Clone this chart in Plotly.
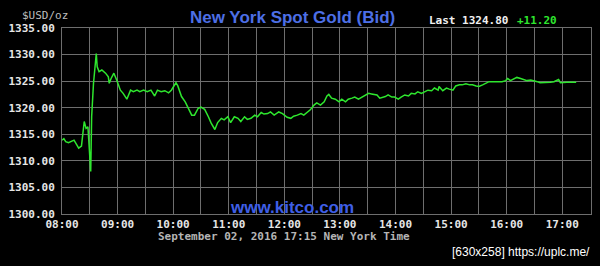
import plotly.graph_objects as go
import pandas as pd

times = ["08:00","08:02","08:04","08:07","08:13","08:18","08:21","08:24","08:26","08:28",
"08:31","08:32","08:34","08:35","08:37","08:38","08:40","08:43","08:47","08:50",
"08:51","08:53","08:56","08:59","09:03","09:06","09:10","09:14","09:17","09:21",
"09:24","09:28","09:32","09:36","09:40","09:43","09:47","09:51","09:55","09:58",
"10:03","10:05","10:09","10:13","10:16","10:20","10:23","10:27","10:30","10:34",
"10:38","10:41","10:45","10:48","10:52","10:55","10:59","11:02","11:06","11:10",
"11:13","11:17","11:20","11:24","11:28","11:31","11:35","11:38","11:42","11:45",
"11:49","11:54","11:58","12:03","12:07","12:10","12:14","12:18","12:21","12:25",
"12:28","12:32","12:35","12:39","12:43","12:46","12:48","12:51","12:55","12:59",
"13:02","13:06","13:09","13:13","13:16","13:20","13:24","13:27","13:31","13:34",
"13:40","13:43","13:49","13:52","13:56","13:59","14:03","14:06","14:10","14:14",
"14:17","14:21","14:24","14:28","14:31","14:35","14:39","14:42","14:46","14:47",
"14:51","14:55","14:58","15:02","15:05","15:09","15:12","15:16","15:20","15:23",
"15:27","15:30","15:34","15:37","15:41","15:45","15:50","15:55","15:59","16:01",
"16:04","16:08","16:11","16:15","16:19","16:22","16:26","16:29","16:33","16:36",
"16:40","16:44","16:47","16:51","16:54","16:56","16:58","17:01","17:05","17:09",
"17:12","17:15"]

bid = [1313.9,1314.2,1313.6,1313.4,1313.9,1312.4,1312.8,1317.4,1316.1,1316.4,
1308.0,1318.3,1324.6,1327.1,1330.2,1327.7,1326.8,1327.1,1326.5,1325.8,
1324.6,1325.5,1326.5,1325.2,1323.3,1322.7,1321.6,1323.3,1323.0,1323.3,
1323.0,1323.3,1323.0,1323.3,1322.2,1323.3,1323.0,1323.2,1322.8,1323.3,
1324.7,1324.1,1322.1,1321.1,1319.9,1318.6,1318.6,1319.9,1320.1,1319.7,
1318.3,1317.1,1315.9,1317.2,1318.0,1317.7,1318.3,1317.2,1318.3,1318.0,
1317.4,1318.3,1317.8,1318.0,1318.6,1318.3,1319.1,1318.8,1318.9,1319.2,
1318.6,1319.2,1318.9,1318.2,1318.0,1318.4,1318.6,1318.9,1318.6,1319.2,
1319.6,1320.5,1320.9,1320.5,1321.1,1322.2,1322.5,1321.8,1321.6,1321.1,
1321.6,1321.1,1321.6,1321.8,1322.0,1321.6,1322.0,1322.2,1322.7,1322.6,
1322.4,1321.8,1322.1,1322.4,1322.0,1322.0,1321.6,1322.0,1322.4,1322.2,
1322.7,1322.6,1323.0,1322.7,1323.0,1323.3,1323.2,1323.7,1323.3,1324.0,
1323.2,1323.7,1323.5,1323.3,1324.1,1324.3,1324.3,1324.5,1324.3,1324.3,
1324.1,1324.0,1324.3,1324.6,1324.9,1324.9,1324.9,1324.9,1325.1,1325.5,
1325.1,1325.5,1325.7,1325.5,1325.2,1325.1,1325.2,1325.1,1324.9,1324.7,
1324.7,1324.7,1324.8,1324.9,1325.1,1325.3,1324.7,1324.8,1324.8,1324.8,
1324.8,1324.8]

date = "2016-09-02"
x = pd.to_datetime([f"{date} {t}" for t in times])

title = "New York Spot Gold (Bid)"
unit = "$USD/oz"
last_label = "Last 1324.80"
change_label = "+11.20"
footer = "September 02, 2016 17:15 New York Time"
site = "www.kitco.com"
stamp = "[630x258] https://uplc.me/"

grid = "#6e6e6e"
mono = "DejaVu Sans Mono"

fig = go.Figure()
fig.add_trace(go.Scatter(x=x, y=bid, mode="lines",
                         line=dict(color="#2ee62e", width=1.5), showlegend=False))

fig.update_layout(
    width=600, height=266,
    margin=dict(l=58, r=8, t=28, b=52),
    paper_bgcolor="black", plot_bgcolor="black",
    xaxis=dict(type="date",
               range=[f"{date} 08:00", f"{date} 17:31"],
               tick0=f"{date} 08:00", dtick=3600000, tickformat="%H:%M",
               showgrid=True, gridcolor=grid, gridwidth=1,
               minor=dict(dtick=1800000, showgrid=True, gridcolor=grid, gridwidth=1, ticks=""),
               showline=True, linecolor=grid, linewidth=1, mirror=True,
               ticks="", ticklen=0,
               tickfont=dict(family=mono, size=11, color="#e6e6e6", weight="bold"),
               zeroline=False, fixedrange=True),
    yaxis=dict(range=[1300, 1335], dtick=5, tick0=1300, tickformat=".2f",
               showgrid=True, gridcolor=grid, gridwidth=1,
               showline=True, linecolor=grid, linewidth=1, mirror=True,
               ticks="", ticklabelstandoff=4,
               tickfont=dict(family=mono, size=11, color="#e6e6e6", weight="bold"),
               zeroline=False, fixedrange=True),
)

ann = [
    dict(text=title, x=291, y=17, font=dict(family="Liberation Sans", size=17, color="#4d6fe6", weight="bold")),
    dict(text=unit, x=41, y=15, font=dict(family=mono, size=11, color="#bdbdbd")),
    dict(text=last_label, x=468, y=20, font=dict(family=mono, size=11, color="#f0f0f0", weight="bold")),
    dict(text=change_label, x=537, y=20, font=dict(family=mono, size=11, color="#2ee62e", weight="bold")),
    dict(text=footer, x=282, y=237, font=dict(family=mono, size=11, color="#b5b5b5", weight="bold")),
    dict(text=site, x=290, y=207, font=dict(family="Liberation Sans", size=17, color="#3f5fe6", weight="bold")),
    dict(text=stamp, x=521, y=252, font=dict(family="Liberation Sans", size=12, color="#ffffff")),
]
for a in ann:
    fig.add_annotation(text=a["text"], xref="paper", yref="paper",
                       x=(a["x"] - 58) / 534, y=(214 - a["y"]) / 186,
                       xanchor="center", yanchor="middle", showarrow=False,
                       font=a["font"])

fig.write_html("out.html")
